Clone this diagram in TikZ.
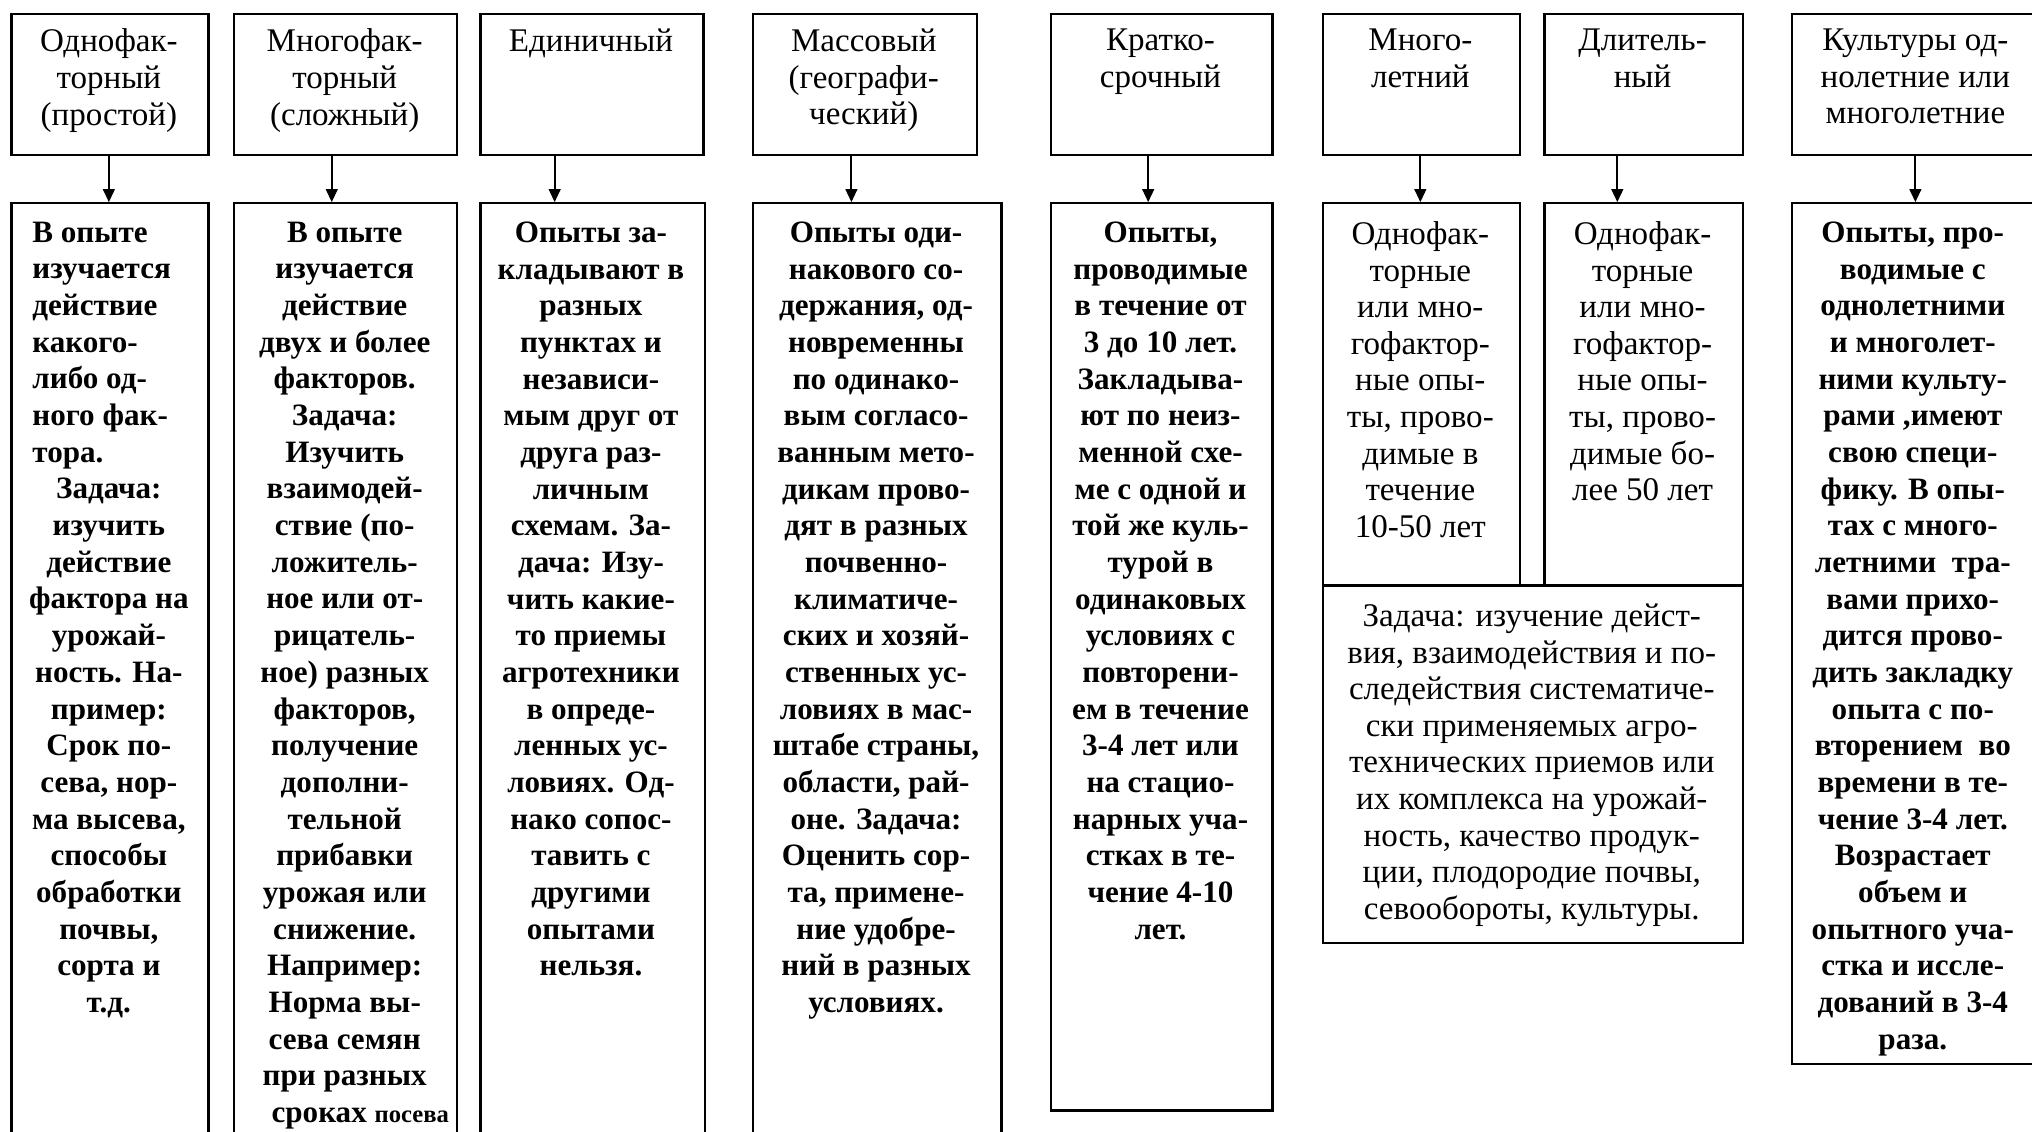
\documentclass[tikz,border=0pt]{standalone}
\usepackage{fontspec}
\setmainfont{Liberation Serif}
\usetikzlibrary{arrows.meta}
\newcommand\ml[1]{\makebox[118pt][l]{#1}}
\begin{document}
\begin{tikzpicture}[x=1pt,y=-1pt,
  box/.style={draw, line width=1.7pt, rectangle, inner sep=0pt, anchor=north west},
  arr/.style={line width=1.5pt, -{Triangle[length=10pt,width=9pt]}},
  hd/.style={anchor=north, inner sep=0pt, align=center, font=\fontsize{25.5}{28.3}\selectfont},
  bd/.style={anchor=north, inner sep=0pt, align=center, font=\fontsize{24}{28.3}\selectfont\bfseries},
  rg/.style={anchor=north, inner sep=0pt, align=center, font=\fontsize{25.5}{28.2}\selectfont}]
\useasboundingbox (0,0) rectangle (1568,873);
\fill[white] (0,0) rectangle (1568,873);
\clip (0,0) rectangle (1568,873);

% top boxes
\node[box, minimum width=152pt, minimum height=109pt] (h1) at (8,10) {};
\node[box, minimum width=172pt, minimum height=109pt] (h2) at (180,10) {};
\node[box, minimum width=172pt, minimum height=109pt] (h3) at (370,10) {};
\node[box, minimum width=173pt, minimum height=109pt] (h4) at (580,10) {};
\node[box, minimum width=171pt, minimum height=109pt] (h5) at (810,10) {};
\node[box, minimum width=152pt, minimum height=109pt] (h6) at (1020,10) {};
\node[box, minimum width=153pt, minimum height=109pt] (h7) at (1191,10) {};
\node[box, minimum width=192pt, minimum height=109pt] (h8) at (1382,10) {};

% lower boxes
\node[box, minimum width=152pt, minimum height=730pt] (d1) at (8,156) {};
\node[box, minimum width=172pt, minimum height=730pt] (d2) at (180,156) {};
\node[box, minimum width=173pt, minimum height=730pt] (d3) at (370,156) {};
\node[box, minimum width=192pt, minimum height=730pt] (d4) at (580,156) {};
\node[box, minimum width=171pt, minimum height=700pt] (d5) at (810,156) {};
\node[box, minimum width=152pt, minimum height=295pt] (d6) at (1020,156) {};
\node[box, minimum width=153pt, minimum height=295pt] (d7) at (1191,156) {};
\node[box, minimum width=324pt, minimum height=276pt] (task) at (1020,451) {};
\node[box, minimum width=192pt, minimum height=664pt] (d8) at (1382,156) {};

% arrows
\coordinate (c1) at (84,0);
\coordinate (c2) at (256,0);
\coordinate (c3) at (428,0);
\coordinate (c4) at (657,0);
\coordinate (c5) at (886,0);
\coordinate (c6) at (1096,0);
\coordinate (c7) at (1248,0);
\coordinate (c8) at (1478,0);
\draw[arr] (h1.south -| c1) -- (d1.north -| c1);
\draw[arr] (h2.south -| c2) -- (d2.north -| c2);
\draw[arr] (h3.south -| c3) -- (d3.north -| c3);
\draw[arr] (h4.south -| c4) -- (d4.north -| c4);
\draw[arr] (h5.south -| c5) -- (d5.north -| c5);
\draw[arr] (h6.south -| c6) -- (d6.north -| c6);
\draw[arr] (h7.south -| c7) -- (d7.north -| c7);
\draw[arr] (h8.south -| c8) -- (d8.north -| c8);

% top texts
\node[hd] (th1) at (84,22) {Однофак-\\торный\\(простой)};
\node[hd] (th2) at (266,22) {Многофак-\\торный\\(сложный)};
\node[hd] (th3) at (456,22) {Единичный};
\node[hd] (th4) at (666.5,22) {Массовый\\(географи-\\ческий)};
\node[hd] (th5) at (895.5,22) {Кратко-\\срочный};
\node[hd] (th6) at (1096,22) {Много-\\летний};
\node[hd] (th7) at (1267.5,22) {Длитель-\\ный};
\node[hd] (th8) at (1478,22) {Культуры од-\\нолетние или\\многолетние};

% lower texts
\node[bd] (t1) at (84,171) {\ml{В опыте}\\\ml{изучается}\\\ml{действие}\\\ml{какого-}\\\ml{либо од-}\\\ml{ного фак-}\\\ml{тора.}\\Задача:\\изучить\\действие\\фактора на\\урожай-\\ность. На-\\пример:\\Срок по-\\сева, нор-\\ма высева,\\способы\\обработки\\почвы,\\сорта и\\т.д.};
\node[bd] (t2) at (266,171) {В опыте\\изучается\\действие\\двух и более\\факторов.\\Задача:\\Изучить\\взаимодей-\\ствие (по-\\ложитель-\\ное или от-\\рицатель-\\ное) разных\\факторов,\\получение\\дополни-\\тельной\\прибавки\\урожая или\\снижение.\\Например:\\Норма вы-\\сева семян\\при разных\\\hspace*{24pt}сроках {\fontsize{19}{28.3}\selectfont посева}};
\node[bd] (t3) at (456,171) {Опыты за-\\кладывают в\\разных\\пунктах и\\независи-\\мым друг от\\друга раз-\\личным\\схемам. За-\\дача: Изу-\\чить какие-\\то приемы\\агротехники\\в опреде-\\ленных ус-\\ловиях. Од-\\нако сопос-\\тавить с\\другими\\опытами\\нельзя.};
\node[bd] (t4) at (676,171) {Опыты оди-\\накового со-\\держания, од-\\новременны\\по одинако-\\вым согласо-\\ванным мето-\\дикам прово-\\дят в разных\\почвенно-\\климатиче-\\ских и хозяй-\\ственных ус-\\ловиях в мас-\\штабе страны,\\области, рай-\\оне. Задача:\\Оценить сор-\\та, примене-\\ние удобре-\\ний в разных\\условиях.};
\node[bd] (t5) at (895.5,171) {Опыты,\\проводимые\\в течение от\\3 до 10 лет.\\Закладыва-\\ют по неиз-\\менной схе-\\ме с одной и\\той же куль-\\турой в\\одинаковых\\условиях с\\повторени-\\ем в течение\\3-4 лет или\\на стацио-\\нарных уча-\\стках в те-\\чение 4-10\\лет.};
\node[rg] (t6) at (1096,171) {Однофак-\\торные\\или мно-\\гофактор-\\ные опы-\\ты, прово-\\димые в\\течение\\10-50 лет};
\node[rg] (t7) at (1267.5,171) {Однофак-\\торные\\или мно-\\гофактор-\\ные опы-\\ты, прово-\\димые бо-\\лее 50 лет};
\node[rg] (tt) at (1182,466) {Задача: изучение дейст-\\вия, взаимодействия и по-\\следействия систематиче-\\ски применяемых агро-\\технических приемов или\\их комплекса на урожай-\\ность, качество продук-\\ции, плодородие почвы,\\севообороты, культуры.};
\node[bd] (t8) at (1476,171) {Опыты, про-\\водимые с\\однолетними\\и многолет-\\ними культу-\\рами ,имеют\\свою специ-\\фику. В опы-\\тах с много-\\летними\ \ тра-\\вами прихо-\\дится прово-\\дить закладку\\опыта с по-\\вторением\ \ во\\времени в те-\\чение 3-4 лет.\\Возрастает\\объем и\\опытного уча-\\стка и иссле-\\дований в 3-4\\раза.};
\end{tikzpicture}
\end{document}
